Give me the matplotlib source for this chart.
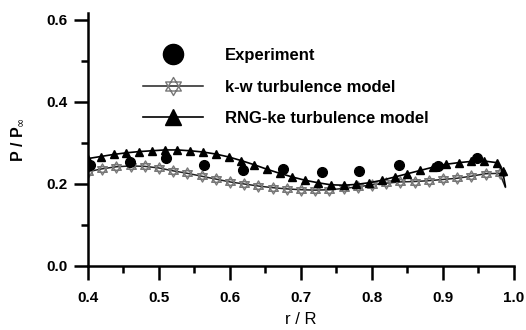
import matplotlib
matplotlib.use("Agg")
import matplotlib.pyplot as plt
from matplotlib.path import Path
from matplotlib.lines import Line2D
from matplotlib.ticker import MultipleLocator
import numpy as np

plt.rcParams['font.family'] = ['Liberation Sans', 'DejaVu Sans']

# experiment
exp_x = [0.403, 0.459, 0.51, 0.563, 0.618, 0.675, 0.73, 0.782, 0.838, 0.893, 0.948]
exp_y = [0.246, 0.254, 0.263, 0.246, 0.234, 0.237, 0.229, 0.232, 0.246, 0.244, 0.263]

# k-w turbulence model
kw_x = [0.40, 0.42, 0.44, 0.46, 0.48, 0.50, 0.52, 0.54, 0.56, 0.58,
        0.60, 0.62, 0.64, 0.66, 0.68, 0.70, 0.72, 0.74, 0.76, 0.78,
        0.80, 0.82, 0.84, 0.86, 0.88, 0.90, 0.92, 0.94, 0.96, 0.98, 0.988]
kw_y = [0.230, 0.237, 0.242, 0.244, 0.243, 0.239, 0.232, 0.226, 0.219, 0.212,
        0.205, 0.200, 0.195, 0.191, 0.188, 0.186, 0.185, 0.186, 0.189, 0.193,
        0.198, 0.202, 0.205, 0.206, 0.208, 0.211, 0.214, 0.219, 0.225, 0.226, 0.192]

# RNG-ke turbulence model
rng_x = [0.400, 0.418, 0.436, 0.454, 0.472, 0.490, 0.508, 0.526, 0.544, 0.562,
         0.580, 0.598, 0.616, 0.634, 0.652, 0.670, 0.688, 0.706, 0.724, 0.742,
         0.760, 0.778, 0.796, 0.814, 0.832, 0.850, 0.868, 0.886, 0.904, 0.922,
         0.940, 0.958, 0.976, 0.984, 0.988]
rng_y = [0.262, 0.267, 0.272, 0.276, 0.279, 0.281, 0.283, 0.283, 0.281, 0.278,
         0.273, 0.266, 0.257, 0.247, 0.236, 0.226, 0.217, 0.209, 0.203, 0.198,
         0.197, 0.199, 0.203, 0.209, 0.217, 0.225, 0.233, 0.241, 0.248, 0.252,
         0.255, 0.256, 0.252, 0.232, 0.195]

# hexagram marker
hv = [(0, 1), (-0.866, -0.5), (0.866, -0.5), (0, 1),
      (0, -1), (0.866, 0.5), (-0.866, 0.5), (0, -1)]
hc = [Path.MOVETO, Path.LINETO, Path.LINETO, Path.CLOSEPOLY] * 2
hexagram = Path(hv, hc)

fig = plt.figure(figsize=(5.26, 3.30), dpi=100)
ax = fig.add_axes([0.1673, 0.194, 0.8097, 0.7666])

ax.plot(kw_x, kw_y, color='#222222', lw=1.1, marker=hexagram, ms=8,
        mfc='none', mec='#777777', mew=1.0, markevery=slice(0, len(kw_x) - 1))
ax.plot(rng_x, rng_y, color='black', lw=1.2, marker='^', ms=6,
        mfc='black', mec='black', markevery=slice(0, len(rng_x) - 1))
ax.plot(exp_x, exp_y, ls='none', marker='o', ms=7, color='black')

ax.set_xlim(0.4, 1.0)
ax.set_ylim(0.0, 0.617)
ax.xaxis.set_major_locator(MultipleLocator(0.1))
ax.xaxis.set_minor_locator(MultipleLocator(0.05))
ax.set_yticks([0.0, 0.2, 0.4, 0.6])
ax.yaxis.set_minor_locator(MultipleLocator(0.1))
ax.spines['top'].set_visible(False)
ax.spines['right'].set_visible(False)
for s in ['left', 'bottom']:
    ax.spines[s].set_linewidth(1.8)
ax.tick_params(which='major', direction='out', length=10, width=1.8, labelsize=11, pad=5)
ax.tick_params(which='minor', direction='out', length=5, width=1.8)
ax.tick_params(axis='x', which='major', pad=8)
ax.set_yticklabels(['0.0', '0.2', '0.4', '0.6'])
for lab in ax.get_xticklabels() + ax.get_yticklabels():
    lab.set_fontweight('bold')

ax.set_xlabel('r / R', fontsize=12, labelpad=5)
ax.set_ylabel(r'P / P$_\infty$', fontsize=11.5, fontweight='bold', labelpad=14)

handles = [
    Line2D([], [], ls='none', marker='o', ms=14.5, color='black'),
    Line2D([], [], color='#222222', lw=1.1, marker=hexagram, ms=13,
           mfc='none', mec='#777777', mew=1.0),
    Line2D([], [], color='black', lw=1.2, marker='^', ms=12, mfc='black'),
]
labels = ['Experiment', 'k-w turbulence model', 'RNG-ke turbulence model']
ax.legend(handles, labels, loc='upper left', bbox_to_anchor=(0.129, 0.862),
          frameon=False, borderpad=0, borderaxespad=0, handlelength=3.6,
          handletextpad=1.3, labelspacing=1.0,
          prop={'weight': 'bold', 'size': 12})

fig.savefig('out.png', dpi=100)
